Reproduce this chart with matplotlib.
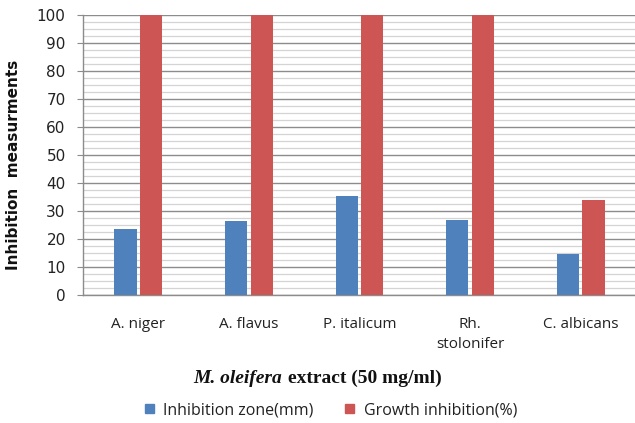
import matplotlib
matplotlib.use("Agg")
import matplotlib.pyplot as plt
import numpy as np
from matplotlib.patches import Rectangle
from matplotlib.offsetbox import TextArea, HPacker, AnchoredOffsetbox

# fungal strains and the two measured responses
strains = ["A. niger", "A. flavus", "P. italicum", "Rh.\nstolonifer", "C. albicans"]
zone_mm = [23.5, 26.3, 35.5, 26.8, 14.8]
growth_pct = [100, 100, 100, 100, 34]

blue = "#4F81BD"
red = "#CD5554"

fig = plt.figure(figsize=(6.35, 4.23), dpi=100)
ax = fig.add_axes([83 / 635, 1 - 295 / 423, 553 / 635, 280 / 423])

x = np.arange(len(strains))
w = 0.2
off = 0.116
ax.bar(x - off, zone_mm, w, color=blue, zorder=3)
ax.bar(x + off, growth_pct, w, color=red, zorder=3)

ax.set_xlim(-0.5, len(strains) - 0.5)
ax.set_ylim(0, 100)
ax.set_yticks(np.arange(0, 101, 10))
ax.set_yticks(np.arange(0, 101, 2.5), minor=True)
ax.grid(axis="y", which="major", color="#8c8c8c", lw=1.0, zorder=0)
ax.grid(axis="y", which="minor", color="#d4d4d4", lw=0.9, zorder=0)

for s in ["top", "right"]:
    ax.spines[s].set_visible(False)
for s in ["left", "bottom"]:
    ax.spines[s].set_color("#8c8c8c")
    ax.spines[s].set_linewidth(1.0)

ax.tick_params(axis="y", which="major", length=4.5, color="#8c8c8c",
               labelsize=11, labelcolor="#222222", pad=8)
ax.tick_params(axis="y", which="minor", length=0)
ax.tick_params(axis="x", length=0, pad=16)
ax.set_xticks(x)
ax.set_xticklabels(strains, fontsize=11, family="Open Sans", color="#222222",
                   linespacing=1.45, va="top")

ax.set_ylabel("Inhibition  measurments", fontsize=11, fontweight="bold",
              color="#111111")
ax.yaxis.set_label_coords(-62 / 553, 0.464)

# x axis title: species name in bold italic, rest bold
xt = HPacker(children=[
    TextArea("M. oleifera", textprops=dict(family="Liberation Serif", style="italic",
                                          weight="bold", size=14, color="#111111")),
    TextArea("extract (50 mg/ml)", textprops=dict(family="Liberation Serif",
                                                  weight="bold", size=14, color="#111111")),
], sep=5, align="baseline")
fig.add_artist(AnchoredOffsetbox(loc="center", child=xt, frameon=False, pad=0,
                                 bbox_to_anchor=(317.5 / 635, 1 - 378 / 423),
                                 bbox_transform=fig.transFigure))

handles = [Rectangle((0, 0), 1, 1, color=blue), Rectangle((0, 0), 1, 1, color=red)]
fig.legend(handles, ["Inhibition zone(mm)", "Growth inhibition(%)"], ncol=2,
           loc="center", bbox_to_anchor=(331 / 635, 1 - 410 / 423), frameon=False,
           prop=dict(family="Open Sans", size=11.5), handlelength=0.55, handleheight=0.55,
           handletextpad=0.6, columnspacing=2.0, labelcolor="#222222")

fig.savefig("out.png", dpi=100)
